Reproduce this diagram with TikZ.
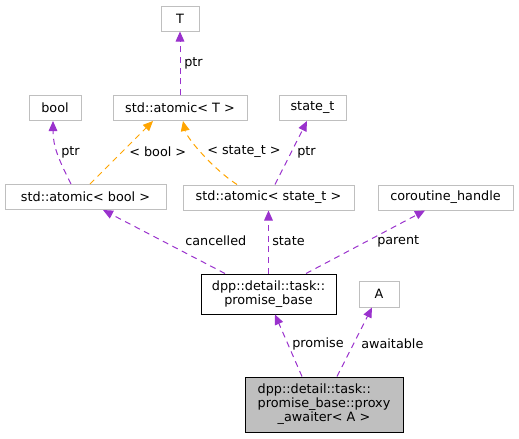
\documentclass[tikz,border=0pt]{standalone}
\usepackage{fontspec}
\setmainfont{DejaVu Sans}
\usetikzlibrary{arrows.meta,calc}
\definecolor{edgepurple}{HTML}{9A32CD}
\definecolor{edgeorange}{HTML}{FFA500}
\definecolor{boxgray}{HTML}{BFBFBF}

\begin{document}
\begin{tikzpicture}[x=0.75pt, y=-0.75pt,
  font=\fontsize{9.6}{10.5}\selectfont,
  cls/.style={draw=boxgray, line width=0.75pt, rectangle, inner sep=0pt, minimum height=18.75pt},
  main/.style={draw=black, line width=0.75pt, rectangle, inner sep=0pt, align=center},
  lbl/.style={inner sep=0pt, anchor=west},
  usage/.style={edgepurple, line width=0.75pt, dash pattern=on 4.5pt off 3.5pt,
    -{Triangle[length=7.5pt,width=6.5pt]}},
  inst/.style={edgeorange, line width=0.75pt, dash pattern=on 4.5pt off 3.5pt,
    -{Triangle[length=7.5pt,width=6.5pt]}}]
 \useasboundingbox (0,0) rectangle (519,439);
 % classes
 \node[cls, minimum width=28.5pt] (T) at (180,18.5) {T};
 \node[cls, minimum width=39pt] (bool) at (55,108) {bool};
 \node[cls, minimum width=100.5pt] (atomT) at (180,108) {std::atomic< T >};
 \node[cls, minimum width=50.25pt] (statet) at (312.5,108) {state\_t};
 \node[cls, minimum width=120.75pt] (atombool) at (85.5,197) {std::atomic< bool >};
 \node[cls, minimum width=128.25pt] (atomstate) at (268.5,197.5) {std::atomic< state\_t >};
 \node[cls, minimum width=101.25pt] (coro) at (445.5,197.5) {coroutine\_handle};
 \node[main, minimum width=101.25pt, minimum height=30pt] (promise) at (268.5,294)
   {dpp::detail::task::\\promise\_base};
 \node[cls, minimum width=30pt, minimum height=19.5pt] (A) at (379,294) {A};
 \node[main, fill=boxgray, minimum width=118.5pt, minimum height=41.25pt] (proxy) at (324,404.5)
   {\rlap{dpp::detail::task::}\phantom{promise\_base::proxy}\\promise\_base::proxy\\\_awaiter< A >};
 % member and template edges
 \draw[usage] (atomT.north) -- (T.south);
 \node[lbl] (ptrT) at (184,63) {ptr};
 \draw[usage] ($(atombool.north)+(-14.5,0)$) .. controls +(-12,-24) and +(0,26) .. ($(bool.south)+(-2,0)$);
 \node[lbl] (ptrbool) at (61,152) {ptr};
 \draw[inst] ($(atombool.north)+(4.5,0)$) -- ($(atomT.south)+(-27,0)$);
 \node[lbl] (tplbool) at (129,152) {< bool >};
 \draw[inst] ($(atomstate.north)+(-31.5,0)$) .. controls +(-22,-14) and +(4,18) .. ($(atomT.south)+(3,0)$);
 \node[lbl] (tplstate) at (207,152) {< state\_t >};
 \draw[usage] ($(atomstate.north)+(6.5,0)$) -- ($(statet.south)+(-5.5,0)$);
 \node[lbl] (ptrstate) at (297,152) {ptr};
 \draw[usage] ($(promise.north)+(-43.5,0)$) -- ($(atombool.south)+(17.5,0)$);
 \node[lbl] (cancelled) at (185,241) {cancelled};
 \draw[usage] (promise.north) -- (atomstate.south);
 \node[lbl] (state) at (272,241) {state};
 \draw[usage] ($(promise.north)+(37.5,0)$) -- ($(coro.south)+(-20.5,0)$);
 \node[lbl] (parent) at (377,241) {parent};
 \draw[usage] ($(proxy.north)+(-22,0)$) -- ($(promise.south)+(6.5,0)$);
 \node[lbl] (promiselbl) at (292,344) {promise};
 \draw[usage] ($(proxy.north)+(13,0)$) -- ($(A.south)+(-7,0)$);
 \node[lbl] (awaitable) at (361,344) {awaitable};
\end{tikzpicture}
\end{document}
